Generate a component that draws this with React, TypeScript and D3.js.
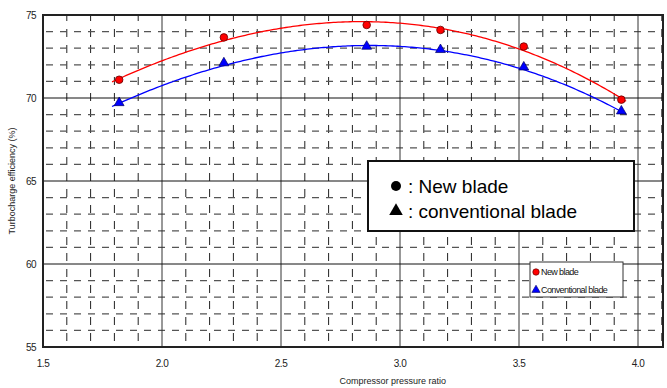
import * as d3 from 'd3';
import { useEffect, useRef } from 'react';

const pressureRatio = [1.82, 2.26, 2.86, 3.17, 3.52, 3.93];
const newBladeEff = [71.1, 73.65, 74.4, 74.1, 73.1, 69.9];
const convBladeEff = [69.65, 72.05, 73.05, 72.85, 71.8, 69.15];
const xTickLabels = ['1.5', '2.0', '2.5', '3.0', '3.5', '4.0'];
const yTickLabels = ['55', '60', '65', '70', '75'];

const WIDTH = 667;
const HEIGHT = 388;
const FONT = 'Arial, "Liberation Sans", sans-serif';

// least squares cubic fit, like a spreadsheet trendline
function polyFit(xs: number[], ys: number[], degree: number) {
  const n = degree + 1;
  const A: number[][] = [];
  for (let r = 0; r < n; r++) {
    const row: number[] = [];
    for (let c = 0; c < n; c++) row.push(d3.sum(xs, (x) => Math.pow(x, r + c)));
    row.push(d3.sum(xs, (x, i) => ys[i] * Math.pow(x, r)));
    A.push(row);
  }
  for (let i = 0; i < n; i++) {
    let p = i;
    for (let k = i + 1; k < n; k++) if (Math.abs(A[k][i]) > Math.abs(A[p][i])) p = k;
    [A[i], A[p]] = [A[p], A[i]];
    for (let k = i + 1; k < n; k++) {
      const f = A[k][i] / A[i][i];
      for (let c = i; c <= n; c++) A[k][c] -= f * A[i][c];
    }
  }
  const coef = new Array(n).fill(0);
  for (let i = n - 1; i >= 0; i--) {
    let s = A[i][n];
    for (let c = i + 1; c < n; c++) s -= A[i][c] * coef[c];
    coef[i] = s / A[i][i];
  }
  return (x: number) => coef.reduce((acc, c, i) => acc + c * Math.pow(x, i), 0);
}

export default function App() {
  const ref = useRef<SVGSVGElement>(null);

  useEffect(() => {
    const svg = d3.select(ref.current);
    svg.selectAll('*').remove();

    const margin = { top: 15, right: 4, bottom: 41, left: 43 };
    const innerWidth = WIDTH - margin.left - margin.right;
    const innerHeight = HEIGHT - margin.top - margin.bottom;

    const x = d3.scaleLinear().domain([1.5, 4.105]).range([0, innerWidth]);
    const y = d3.scaleLinear().domain([55, 75]).range([innerHeight, 0]);

    const g = svg.append('g').attr('transform', `translate(${margin.left},${margin.top})`);

    // minor dashed grid
    const minorX = d3.range(16, 42).map((v) => v / 10).filter((v) => Math.round(v * 10) % 5 !== 0);
    const minorY = d3.range(56, 75).filter((v) => v % 5 !== 0);

    g.selectAll('line.minor-x')
      .data(minorX)
      .enter()
      .append('line')
      .attr('x1', (d) => x(d))
      .attr('x2', (d) => x(d))
      .attr('y1', 0)
      .attr('y2', innerHeight)
      .attr('stroke', '#222')
      .attr('stroke-width', 1)
      .attr('stroke-dasharray', '8,8')
      .attr('stroke-dashoffset', 2);

    g.selectAll('line.minor-y')
      .data(minorY)
      .enter()
      .append('line')
      .attr('x1', 0)
      .attr('x2', innerWidth)
      .attr('y1', (d) => y(d))
      .attr('y2', (d) => y(d))
      .attr('stroke', '#555')
      .attr('stroke-width', 1.2)
      .attr('stroke-dasharray', '7,7')
      .attr('stroke-dashoffset', -3);

    // major grid
    g.selectAll('line.major-x')
      .data(xTickLabels.map(Number).filter((v) => v > 1.5))
      .enter()
      .append('line')
      .attr('x1', (d) => x(d))
      .attr('x2', (d) => x(d))
      .attr('y1', 0)
      .attr('y2', innerHeight)
      .attr('stroke', '#333')
      .attr('stroke-width', 1);

    g.selectAll('line.major-y')
      .data(yTickLabels.map(Number).filter((v) => v > 55 && v < 75))
      .enter()
      .append('line')
      .attr('x1', 0)
      .attr('x2', innerWidth)
      .attr('y1', (d) => y(d))
      .attr('y2', (d) => y(d))
      .attr('stroke', '#111')
      .attr('stroke-width', 1);

    // frame
    g.append('rect')
      .attr('x', 0)
      .attr('y', 0)
      .attr('width', innerWidth)
      .attr('height', innerHeight)
      .attr('fill', 'none')
      .attr('stroke', '#222')
      .attr('stroke-width', 2);

    // tick labels
    g.selectAll('text.xtick')
      .data(xTickLabels)
      .enter()
      .append('text')
      .attr('x', (d) => x(Number(d)))
      .attr('y', innerHeight + 20)
      .attr('text-anchor', 'middle')
      .style('font-family', FONT)
      .style('font-size', '10px')
      .style('letter-spacing', '-0.5px')
      .style('fill', '#222')
      .text((d) => d);

    g.selectAll('text.ytick')
      .data(yTickLabels)
      .enter()
      .append('text')
      .attr('x', -7)
      .attr('y', (d) => y(Number(d)) + 4)
      .attr('text-anchor', 'end')
      .style('font-family', FONT)
      .style('font-size', '10px')
      .style('letter-spacing', '-0.5px')
      .style('fill', '#222')
      .text((d) => d);

    // axis titles
    svg.append('text')
      .attr('x', margin.left + x(2.97))
      .attr('y', 384)
      .attr('text-anchor', 'middle')
      .style('font-family', FONT)
      .style('font-size', '9px')
      .style('fill', '#222')
      .text('Compressor pressure ratio');

    svg.append('text')
      .attr('transform', `translate(15,${margin.top + y(65)}) rotate(-90)`)
      .attr('text-anchor', 'middle')
      .style('font-family', FONT)
      .style('font-size', '9px')
      .style('fill', '#222')
      .text('Turbocharge efficiency (%)');

    // trend curves
    const series = [
      { values: newBladeEff, color: '#ff0000', marker: 'circle' },
      { values: convBladeEff, color: '#0000ff', marker: 'triangle' },
    ];

    const xSpan = d3.range(1.79, 3.951, 0.01);
    series.forEach((s) => {
      const fit = polyFit(pressureRatio, s.values, 3);
      const line = d3.line<number>()
        .x((d) => x(d))
        .y((d) => y(fit(d)));
      g.append('path')
        .datum(xSpan)
        .attr('d', line)
        .attr('fill', 'none')
        .attr('stroke', s.color)
        .attr('stroke-width', 1.3);
    });

    // markers
    g.selectAll('circle.new')
      .data(pressureRatio)
      .enter()
      .append('circle')
      .attr('cx', (d) => x(d))
      .attr('cy', (d, i) => y(newBladeEff[i]))
      .attr('r', 3.8)
      .attr('fill', '#ff0000')
      .attr('stroke', '#600')
      .attr('stroke-width', 0.8);

    const tri = d3.symbol().type(d3.symbolTriangle).size(42);
    g.selectAll('path.conv')
      .data(pressureRatio)
      .enter()
      .append('path')
      .attr('d', tri)
      .attr('transform', (d, i) => `translate(${x(d)},${y(convBladeEff[i]) - 1})`)
      .attr('fill', '#0000ff')
      .attr('stroke', '#000060')
      .attr('stroke-width', 0.7);

    // large annotation box
    const box = svg.append('g');
    box.append('rect')
      .attr('x', 368)
      .attr('y', 161)
      .attr('width', 266)
      .attr('height', 70)
      .attr('fill', '#fff')
      .attr('stroke', '#111')
      .attr('stroke-width', 2);
    box.append('circle')
      .attr('cx', 396)
      .attr('cy', 186)
      .attr('r', 5)
      .attr('fill', '#000');
    box.append('path')
      .attr('d', d3.symbol().type(d3.symbolTriangle).size(80))
      .attr('transform', 'translate(396,211)')
      .attr('fill', '#000');
    box.append('text')
      .attr('x', 408)
      .attr('y', 193)
      .style('font-family', FONT)
      .style('font-size', '19px')
      .style('fill', '#000')
      .text(': New blade');
    box.append('text')
      .attr('x', 408)
      .attr('y', 218)
      .style('font-family', FONT)
      .style('font-size', '19px')
      .style('fill', '#000')
      .text(': conventional blade');

    // small legend
    const leg = svg.append('g');
    leg.append('rect')
      .attr('x', 530)
      .attr('y', 262)
      .attr('width', 93)
      .attr('height', 35)
      .attr('fill', '#fff')
      .attr('stroke', '#333')
      .attr('stroke-width', 1);
    leg.append('circle')
      .attr('cx', 536)
      .attr('cy', 272)
      .attr('r', 3.2)
      .attr('fill', '#ff0000')
      .attr('stroke', '#600')
      .attr('stroke-width', 0.7);
    leg.append('path')
      .attr('d', d3.symbol().type(d3.symbolTriangle).size(30))
      .attr('transform', 'translate(536,290)')
      .attr('fill', '#0000ff')
      .attr('stroke', '#000060')
      .attr('stroke-width', 0.6);
    leg.append('text')
      .attr('x', 541)
      .attr('y', 275)
      .style('font-family', FONT)
      .style('font-size', '9px')
      .style('letter-spacing', '-0.6px')
      .style('fill', '#111')
      .text('New blade');
    leg.append('text')
      .attr('x', 541)
      .attr('y', 293)
      .style('font-family', FONT)
      .style('font-size', '9px')
      .style('letter-spacing', '-0.6px')
      .style('fill', '#111')
      .text('Conventional blade');
  }, []);

  return (
    <svg
      ref={ref}
      width={WIDTH}
      height={HEIGHT}
      style={{ position: 'absolute', left: 0, top: 0, background: '#fff' }}
      role="img"
      aria-label="Turbocharge efficiency vs compressor pressure ratio"
    />
  );
}
